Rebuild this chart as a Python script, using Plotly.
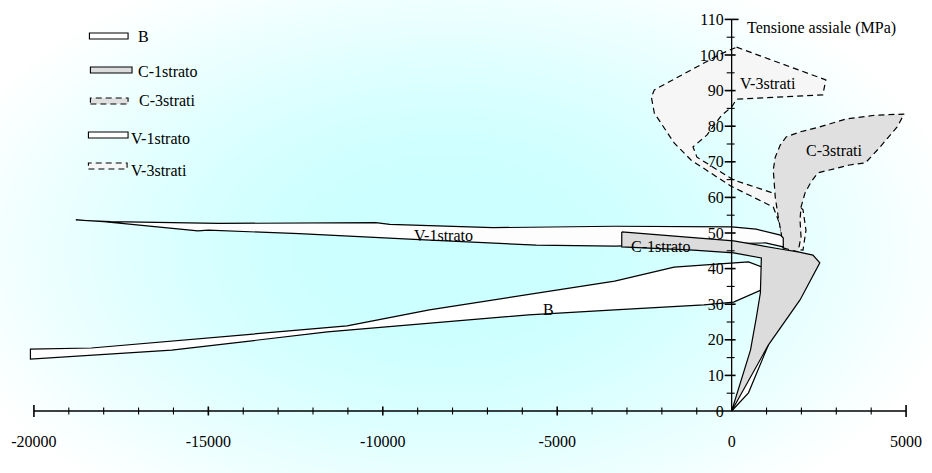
import plotly.graph_objects as go

W, H = 932, 473

# ---- envelopes: volumetric strain (mm/km) vs axial stress (MPa) ----
b_x = [0, 483, 1051, 852, 57, -795, -3352, -5824, -11591, -16052, -20100,
       -20100, -18353, -11023, -8665, -4574, -3352, -1648, 57, 483, 881, 1000, 0]
b_y = [0, 5.1, 18.5, 34.0, 30.6, 29.8, 28.4, 27.0, 22.2, 17.1, 14.6,
       17.4, 17.7, 23.9, 28.4, 34.6, 36.5, 40.4, 41.6, 41.9, 40.4, 25.0, 0]

v1_x = [-18800, -17800, -14700, -10200, -9800, -6850, -3350, 0, 700, 1400, 1480,
        1480, 970, -1100, -3350, -5600, -9100, -12400, -15000, -15300, -18000, -18800]
v1_y = [53.65, 53.2, 52.7, 52.9, 52.4, 51.5, 51.9, 51.7, 51.1, 49.4, 48.6,
        46.1, 47.2, 46.9, 46.3, 46.6, 48.2, 49.8, 50.8, 50.6, 53.2, 53.65]

c1_x = [-3150, 57, 1392, 1903, 2330, 2528, 1960, 1051, 0, 540, 710, 824, 852,
        57, -1100, -3150, -3150]
c1_y = [50.3, 47.8, 45.5, 44.7, 43.8, 41.6, 31.2, 18.5, 0, 17.1, 26.4, 33.2, 43.0,
        44.4, 45.2, 46.1, 50.3]

c3_x = [1477, 1420, 1335, 1250, 1193, 1250, 1392, 1563, 1960, 2528, 3267, 4119, 4943,
        4744, 4233, 3835, 3381, 2813, 2472, 2273, 2102, 1989, 1960, 1989, 1903, 1477]
c3_y = [45.8, 50.0, 54.5, 60.1, 67.7, 71.3, 74.7, 77.0, 78.4, 79.8, 82.0, 83.1, 83.4,
        79.8, 73.9, 69.7, 69.1, 67.7, 66.9, 64.3, 61.2, 57.3, 53.7, 48.9, 44.7, 45.8]

v3_x = [142, 2699, 2614, 142, 0, -284, -710, -1108, -994, 57, 1193, 1761, 2046, 2131,
        2046, 1477, 1392, 1193, -28, -1165, -1648, -2216, -2301, -2216, -313, 142]
v3_y = [102.2, 93.0, 88.8, 87.6, 85.4, 83.1, 77.5, 74.2, 71.3, 64.9, 61.2, 59.3, 56.5,
        50.8, 45.2, 45.8, 52.2, 57.3, 63.2, 70.5, 75.3, 83.7, 88.2, 90.2, 100.3, 102.2]

# in-plot labels: text, x, y
region_labels = [
    ("V-1strato", -8267, 49.4),
    ("B", -5256, 28.4),
    ("C-1strato", -2017, 46.1),
    ("C-3strati", 2955, 73.3),
    ("V-3strati", 1051, 91.9),
]

# axes
x_major = [-20000, -15000, -10000, -5000, 0, 5000]
x_major_text = ["-20000", "-15000", "-10000", "-5000", "0", "5000"]
x_minor_step = 1000
y_major = list(range(0, 111, 10))
y_minor_step = 5
x_title = "Deformazione volumetrica (mm/km)"
y_title = "Tensione assiale (MPa)"

# legend entries: name, fill, dash
legend_items = [
    ("B", "#ffffff", "solid"),
    ("C-1strato", "#dcdcdc", "solid"),
    ("C-3strati", "#e0e0e0", "dash"),
    ("V-1strato", "#ffffff", "solid"),
    ("V-3strati", "#f6f6f6", "dash"),
]

FONT = "Liberation Serif, Times New Roman, serif"
FS = 16
DASH = "6px,4px"

# ---- geometry of the plotting area ----
ML, MR, MT, MB = 24, 10, 12, 52
X0PX, X1PX = 34, 914           # pixel columns of -20000 and 5000
Y0PX, YPU = 411, 3.56          # pixel row of 0 MPa, pixels per MPa
XPU = (X1PX - X0PX) / 25000.0
xr = [-20000 - (X0PX - ML) / XPU, 5000 + (W - MR - X1PX) / XPU]
yr = [-(H - MB - Y0PX) / YPU, (Y0PX - MT) / YPU]


def fx(px):
    return (px - ML) / (W - ML - MR)


def fy(py):
    return (H - MB - py) / (H - MT - MB)


fig = go.Figure()

# soft radial cyan background
shapes = []
N = 30
cx, cy = 450, 250
rx_out, ry_out, rx_in, ry_in = 520, 310, 130, 80
for i in range(N):
    t = i / (N - 1)
    rx = rx_out + (rx_in - rx_out) * t
    ry = ry_out + (ry_in - ry_out) * t
    a = 1.0 / (N - i)
    shapes.append(dict(type="circle", xref="paper", yref="paper",
                       x0=fx(cx - rx), x1=fx(cx + rx), y0=fy(cy + ry), y1=fy(cy - ry),
                       fillcolor=f"rgba(204,255,255,{a:.4f})", line=dict(width=0),
                       layer="below"))


def band(xs, ys, fill, dash, name):
    fig.add_trace(go.Scatter(x=xs, y=ys, mode="lines", fill="toself", fillcolor=fill,
                             line=dict(color="black", width=1.2, dash=dash),
                             name=name, showlegend=False, hoverinfo="skip"))


band(v3_x, v3_y, "#f6f6f6", DASH, "V-3strati")
band(c3_x, c3_y, "#e0e0e0", DASH, "C-3strati")
band(b_x, b_y, "#ffffff", "solid", "B")
band(v1_x, v1_y, "#fdfdfd", "solid", "V-1strato")
band(c1_x, c1_y, "#dcdcdc", "solid", "C-1strato")

# axis lines
fig.add_trace(go.Scatter(x=[x_major[0], x_major[-1], None, 0, 0],
                         y=[0, 0, None, 0, y_major[-1]], mode="lines",
                         line=dict(color="black", width=1.3), showlegend=False,
                         hoverinfo="skip"))


def seg_trace(xs, ys, w):
    fig.add_trace(go.Scatter(x=xs, y=ys, mode="lines", line=dict(color="black", width=w),
                             showlegend=False, hoverinfo="skip"))


# x ticks crossing the axis
mx, my, nx, ny = [], [], [], []
for v in range(x_major[0], x_major[-1] + 1, x_minor_step):
    if v == 0:
        continue
    if v in x_major:
        h = 6 if v in (x_major[0], x_major[-1]) else 4.5
        mx += [v, v, None]
        my += [-h / YPU, h / YPU, None]
    else:
        nx += [v, v, None]
        ny += [-3.5 / YPU, 3.5 / YPU, None]
# y ticks crossing the axis
for v in range(0, y_major[-1] + 1, y_minor_step):
    if v == 0:
        continue
    if v == y_major[-1]:
        mx += [-7 / XPU, 7 / XPU, None]
        my += [v, v, None]
    elif v in y_major:
        mx += [-7 / XPU, 4 / XPU, None]
        my += [v, v, None]
    else:
        nx += [-5 / XPU, 3 / XPU, None]
        ny += [v, v, None]
seg_trace(mx, my, 1.6)
seg_trace(nx, ny, 1.1)

annotations = []
for txt, x, y in region_labels:
    annotations.append(dict(x=x, y=y, xref="x", yref="y", text=txt, showarrow=False,
                            xanchor="center", yanchor="middle",
                            font=dict(family=FONT, size=FS, color="black")))
annotations.append(dict(x=(x_major[0] + x_major[-1]) / 2, y=-(463 - Y0PX) / YPU,
                        xref="x", yref="y", text=x_title, showarrow=False,
                        xanchor="center", yanchor="middle",
                        font=dict(family=FONT, size=FS, color="black")))
annotations.append(dict(x=13 / XPU, y=(Y0PX - 28) / YPU, xref="x", yref="y",
                        text=y_title, showarrow=False, xanchor="left", yanchor="middle",
                        font=dict(family=FONT, size=FS, color="black")))

# legend drawn as outlined swatches
leg_rows = [36, 70, 101, 135, 166]
leg_text_y = [36, 71, 101, 138, 171]
leg_text_x = [137, 137, 138, 130, 130]
leg_box = [(90, 129), (91, 133), (91, 129), (89, 129), (89, 128)]
for (name, fill, dash), row, ty, tx, (bx0, bx1) in zip(legend_items, leg_rows, leg_text_y,
                                                      leg_text_x, leg_box):
    shapes.append(dict(type="rect", xref="paper", yref="paper",
                       x0=fx(bx0), x1=fx(bx1), y0=fy(row + 3), y1=fy(row - 3),
                       fillcolor=fill,
                       line=dict(color="black", width=1.1,
                                 dash="solid" if dash == "solid" else DASH)))
    annotations.append(dict(x=fx(tx), y=fy(ty), xref="paper", yref="paper",
                            text=name, showarrow=False, xanchor="left", yanchor="middle",
                            font=dict(family=FONT, size=FS, color="black")))

fig.update_layout(
    width=W, height=H,
    margin=dict(l=ML, r=MR, t=MT, b=MB, pad=0),
    paper_bgcolor="white", plot_bgcolor="rgba(0,0,0,0)",
    showlegend=False,
    shapes=shapes, annotations=annotations,
    xaxis=dict(range=xr, showgrid=False, zeroline=False, showline=False, ticks="",
               tickvals=x_major, ticktext=x_major_text, anchor="free",
               position=(0 - yr[0]) / (yr[1] - yr[0]), ticklabelstandoff=19,
               tickfont=dict(family=FONT, size=FS, color="black"), fixedrange=True),
    yaxis=dict(range=yr, showgrid=False, zeroline=False, showline=False, ticks="",
               tickvals=y_major, ticktext=[str(v) for v in y_major], anchor="free",
               position=(0 - xr[0]) / (xr[1] - xr[0]), ticklabelstandoff=8,
               tickfont=dict(family=FONT, size=FS, color="black"), fixedrange=True),
)

fig.write_html("out.html")
